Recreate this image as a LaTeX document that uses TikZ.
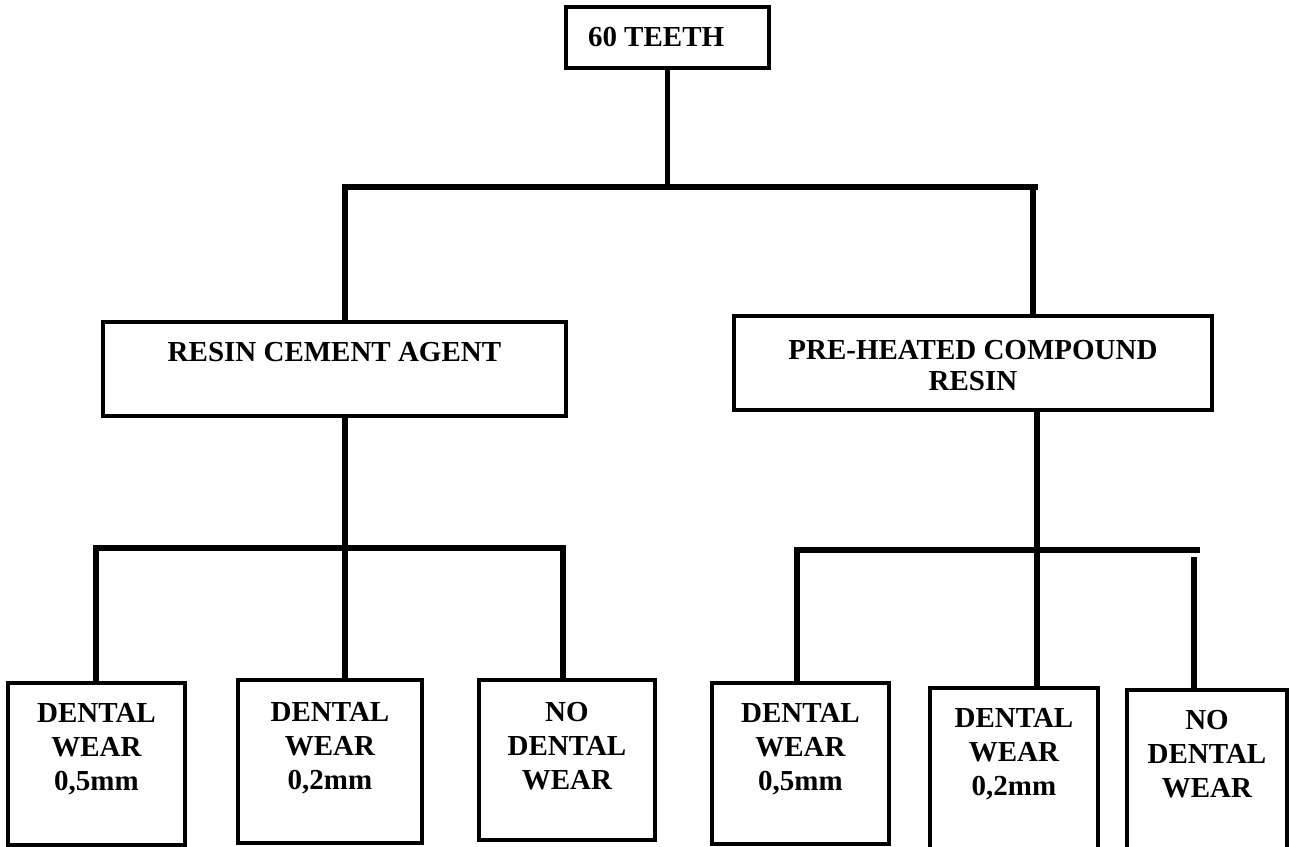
\documentclass[tikz,border=0pt]{standalone}
\usepackage{fontspec}
\setmainfont{Liberation Serif}
\usetikzlibrary{positioning,calc}

\newcommand{\boxtxt}[4]{\parbox[c][#2][t]{#1}{\centering\vspace*{#3}#4}}

\begin{document}
\begin{tikzpicture}[x=0.02cm, y=-0.02cm,
  tbox/.style={draw, line width=2.3pt, inner sep=0pt, outer sep=0pt, anchor=north west,
    font=\fontsize{16.5pt}{19.3pt}\selectfont\bfseries},
  link/.style={line width=3pt}]
\useasboundingbox (0,0) rectangle (1290,847);

% boxes
\node[tbox] (teeth) at (566,7) {\parbox[c][1.22cm][c]{4.06cm}{\hspace*{0.44cm}60 TEETH}};
\node[tbox] (cement) at (103,322) {\boxtxt{9.26cm}{1.88cm}{0.41cm}{RESIN CEMENT AGENT}};
\node[tbox] (heated) at (734,316) {\boxtxt{9.56cm}{1.88cm}{0.49cm}{PRE-HEATED COMPOUND\\[-1.5pt]RESIN}};

\node[tbox] (cwear5) at (8,683) {\boxtxt{3.54cm}{3.24cm}{0.41cm}{DENTAL\\WEAR\\0,5mm}};
\node[tbox] (cwear2) at (238,680) {\boxtxt{3.68cm}{3.26cm}{0.45cm}{DENTAL\\WEAR\\0,2mm}};
\node[tbox] (cnowear) at (479,680) {\boxtxt{3.52cm}{3.20cm}{0.45cm}{NO\\DENTAL\\WEAR}};
\node[tbox] (hwear5) at (712,683) {\boxtxt{3.54cm}{3.22cm}{0.41cm}{DENTAL\\WEAR\\0,5mm}};
\node[tbox] (hwear2) at (930,688) {\boxtxt{3.36cm}{3.60cm}{0.41cm}{DENTAL\\WEAR\\0,2mm}};
\node[tbox] (hnowear) at (1127,690) {\boxtxt{3.20cm}{3.60cm}{0.41cm}{NO\\DENTAL\\WEAR}};

% junctions
\coordinate (topL) at (345,187);
\coordinate (topR) at (1038,187);
\coordinate (dropR) at (1033,187);
\coordinate (cL) at (96,548);
\coordinate (cM) at (345,548);
\coordinate (cR) at (563,548);
\coordinate (hL) at (797,550);
\coordinate (hM) at (1037,550);
\coordinate (hR) at (1200,550);
\coordinate (hN) at (1194,557);

% connectors
\draw[link] (teeth.south) -- (teeth.south |- topL);
\draw[link] (topL |- cement.north) -- (topL) -- (topR);
\draw[link] (dropR) -- (dropR |- heated.north);

\draw[link] (cM |- cement.south) -- (cM |- cwear2.north);
\draw[link] (cL |- cwear5.north) -- (cL) -- (cR) -- (cR |- cnowear.north);

\draw[link] (hM |- heated.south) -- (hM |- hwear2.north);
\draw[link] (hL |- hwear5.north) -- (hL) -- (hR);
\draw[link] (hN) -- (hN |- hnowear.north);
\end{tikzpicture}
\end{document}
